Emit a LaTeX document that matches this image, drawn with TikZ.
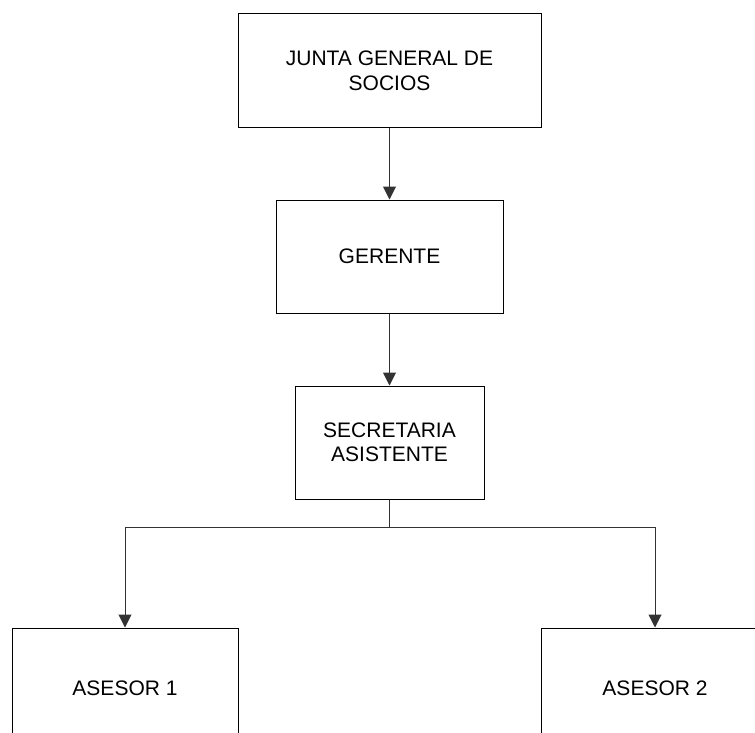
\documentclass[tikz,border=0pt]{standalone}
\usepackage{fontspec}
\setmainfont{Liberation Sans}
\usetikzlibrary{arrows.meta}
\begin{document}
\begin{tikzpicture}[x=1pt,y=1pt,
  box/.style={draw=black,line width=1pt,inner sep=0pt,align=center,
    font=\fontsize{21}{24.5}\selectfont},
  conn/.style={draw=black!80,line width=1pt,-{Triangle[width=13pt,length=13pt]}}]
\useasboundingbox (0,0) rectangle (755,-733);
\clip (0,0) rectangle (755,-733);
\node[box,minimum width=303,minimum height=114] (junta) at (389.5,-71) {JUNTA GENERAL DE\\SOCIOS};
\node[box,minimum width=227,minimum height=113] (gerente) at (389.5,-256.5) {GERENTE};
\node[box,minimum width=189,minimum height=113] (secre) at (389.5,-442.5) {SECRETARIA\\ASISTENTE};
\node[box,minimum width=226,minimum height=120] (ase1) at (125,-688) {ASESOR 1};
\node[box,minimum width=228,minimum height=120] (ase2) at (655,-688) {ASESOR 2};
\coordinate (bar) at (389.5,-527.7);
\draw[conn] (junta) -- (gerente);
\draw[conn] (gerente) -- (secre);
\draw[draw=black!80,line width=1pt] (secre.south) -- (bar);
\draw[conn] (bar) -| (ase1.north);
\draw[conn] (bar) -| (ase2.north);
\end{tikzpicture}
\end{document}
